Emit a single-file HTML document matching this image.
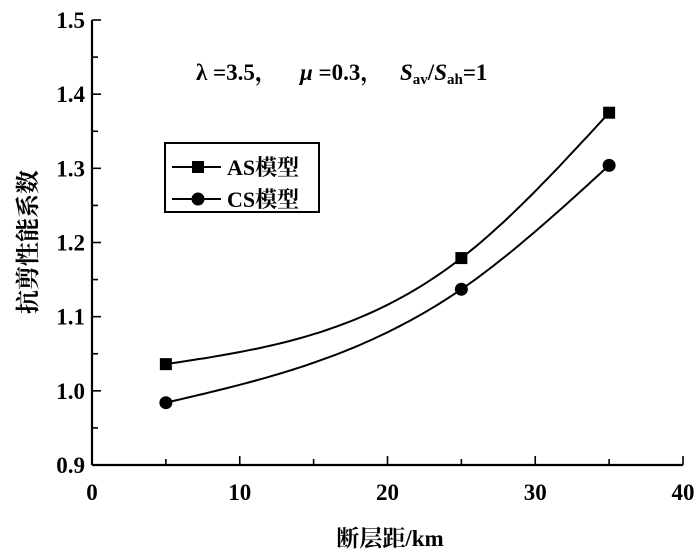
<!DOCTYPE html>
<html><head><meta charset="utf-8"><style>
body{margin:0;background:#fff;}
svg text{font-family:"Liberation Serif","Noto Serif CJK SC",serif;fill:#000;}
</style></head><body>
<svg width="700" height="555" viewBox="0 0 700 555">
<g id="axes"></g>
<g id="series"></g>
<text y="80" font-size="23" font-weight="bold"><tspan x="196">λ =3.5，</tspan><tspan x="300" font-style="italic">μ</tspan><tspan> =0.3，</tspan><tspan x="400" font-style="italic">S</tspan><tspan font-size="15" dy="4">av</tspan><tspan dy="-4">/</tspan><tspan font-style="italic">S</tspan><tspan font-size="15" dy="4">ah</tspan><tspan dy="-4">=1</tspan></text>
<g>
<rect x="165" y="143" width="154" height="69" fill="none" stroke="#000" stroke-width="2"/>
<line x1="172" y1="167" x2="221" y2="167" stroke="#000" stroke-width="2"/>
<rect x="192" y="161" width="12" height="12" fill="#000"/>
<text x="227" y="175" font-size="22" font-weight="bold">AS模型</text>
<line x1="172" y1="199" x2="221" y2="199" stroke="#000" stroke-width="2"/>
<circle cx="198" cy="199" r="6.5" fill="#000"/>
<text x="227" y="207" font-size="22" font-weight="bold">CS模型</text>
</g>
<text x="390" y="546" font-size="23" font-weight="bold" text-anchor="middle">断层距/km</text>
<text transform="translate(36,242) rotate(-90)" font-size="24" font-weight="bold" text-anchor="middle">抗剪性能系数</text>
</svg>
<script>
const xs=[5,25,35];
const asVals=[1.036,1.179,1.375];
const csVals=[0.984,1.137,1.304];
const xTicks=[0,10,20,30,40];
const yTicks=[0.9,1.0,1.1,1.2,1.3,1.4,1.5];
const NS='http://www.w3.org/2000/svg';
const X=v=>92+(v-0)/40*591;
const Y=v=>465-(v-0.9)/0.6*445;
const ax=document.getElementById('axes'), se=document.getElementById('series');
function mk(t,a,p){const e=document.createElementNS(NS,t);for(const k in a)e.setAttribute(k,a[k]);(p||ax).appendChild(e);return e;}
const xl=mk('line',{x1:X(0),y1:Y(0.9),x2:X(40),y2:Y(0.9),stroke:'#000','stroke-width':2.2});


const yl=mk('line',{x1:X(0),y1:Y(0.9),x2:X(0),y2:Y(1.5),stroke:'#000','stroke-width':2.2});


for(let v=0;v<=40;v+=5){mk('line',{x1:X(v),x2:X(v),y1:Y(0.9),y2:Y(0.9)-(v%10?6:9),stroke:'#000','stroke-width':1.6});}
for(let i=0;i<=12;i++){const v=0.9+i*0.05;mk('line',{x1:X(0),x2:X(0)+(i%2?6:9),y1:Y(v),y2:Y(v),stroke:'#000','stroke-width':1.6});}
xTicks.forEach(v=>{const t=mk('text',{x:X(v),y:500,'font-size':23,'font-weight':'bold','text-anchor':'middle'});t.textContent=v;

});
yTicks.forEach(v=>{const t=mk('text',{x:85,y:Y(v)+8,'font-size':23,'font-weight':'bold','text-anchor':'end'});t.textContent=v.toFixed(1);

});
function spline(vals){
 const n=xs.length,h=[],M=new Array(n).fill(0);
 for(let i=0;i<n-1;i++)h.push(xs[i+1]-xs[i]);
 if(n===3){const r=6*((vals[2]-vals[1])/h[1]-(vals[1]-vals[0])/h[0]);M[1]=r/(2*(h[0]+h[1]));}
 else{const a=[],b=[],c=[],r=[];for(let i=1;i<n-1;i++){a.push(h[i-1]);b.push(2*(h[i-1]+h[i]));c.push(h[i]);r.push(6*((vals[i+1]-vals[i])/h[i]-(vals[i]-vals[i-1])/h[i-1]));}
  for(let i=1;i<b.length;i++){const m=a[i]/b[i-1];b[i]-=m*c[i-1];r[i]-=m*r[i-1];}
  for(let i=b.length-1;i>=0;i--){M[i+1]=(r[i]-(i<b.length-1?c[i]*M[i+2]:0))/b[i];}}
 return x=>{let i=0;while(i<n-2&&x>xs[i+1])i++;const t1=xs[i+1]-x,t0=x-xs[i],hh=h[i];
  return M[i]*t1*t1*t1/(6*hh)+M[i+1]*t0*t0*t0/(6*hh)+(vals[i]/hh-M[i]*hh/6)*t1+(vals[i+1]/hh-M[i+1]*hh/6)*t0;};
}
function series(vals,name,marker){
 const f=spline(vals);
 let d='';for(let k=0;k<=80;k++){const x=xs[0]+(xs[xs.length-1]-xs[0])*k/80;d+=(k?'L':'M')+X(x).toFixed(1)+','+Y(f(x)).toFixed(1);}
 const p=mk('path',{d:d,fill:'none',stroke:'#000','stroke-width':2},se);
 
 
 vals.forEach((v,i)=>{let m;
  if(marker==='sq')m=mk('rect',{x:X(xs[i])-6,y:Y(v)-6,width:12,height:12,fill:'#000'},se);
  else m=mk('circle',{cx:X(xs[i]),cy:Y(v),r:6.5,fill:'#000'},se);
  
  });
}
series(asVals,'as-model','sq');
series(csVals,'cs-model','ci');
</script>
</body></html>
